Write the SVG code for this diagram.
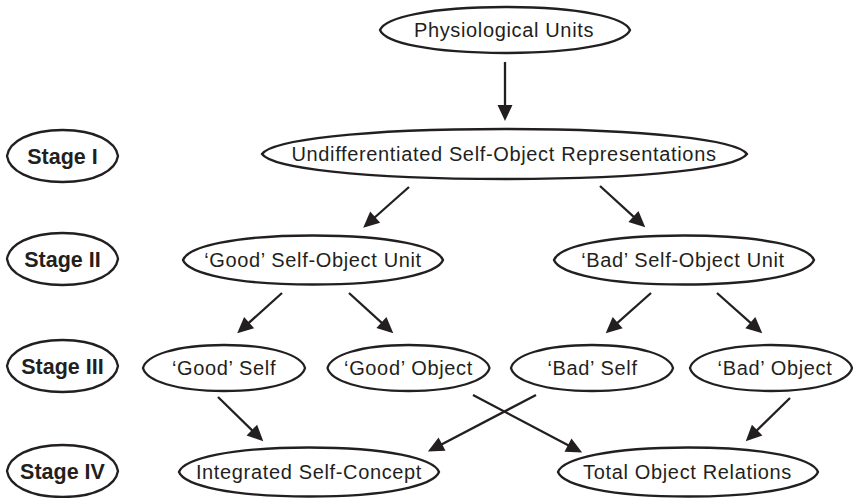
<svg xmlns="http://www.w3.org/2000/svg" xmlns:xlink="http://www.w3.org/1999/xlink" width="853" height="498" viewBox="0 0 853 498">
<style>
  .shape { fill: #ffffff; stroke: #231f20; stroke-width: 2.3; }
  .lbl { font-family: "Liberation Sans", Arial, Helvetica, sans-serif; font-size: 20px; letter-spacing: 0.65px; fill: #231f20; text-anchor: middle; }
  .stg { font-family: "Liberation Sans", Arial, Helvetica, sans-serif; font-size: 21.5px; font-weight: bold; fill: #231f20; text-anchor: middle; }
  .edge { fill: none; stroke: #231f20; stroke-width: 2.3; marker-end: url(#arrow); }
</style>
<defs>
  <marker id="arrow" markerUnits="userSpaceOnUse" markerWidth="17" markerHeight="15" refX="12" refY="7.5" orient="auto" overflow="visible">
    <path d="M0,0 L16,7.5 L0,15 z" fill="#231f20"/>
  </marker>
  <path id="stage" d="M0,0 c2.2,-14.3 22.2,-26 55.5,-26 c33.3,0 53.3,11.7 55.5,26 c-2.2,14.3 -22.2,26 -55.5,26 c-33.3,0 -53.3,-11.7 -55.5,-26 z"/>
  <path id="small" d="M0,0 c3.24,-12.65 32.4,-23 81,-23 c48.6,0 77.76,10.35 81,23 c-3.24,12.65 -32.4,23 -81,23 c-48.6,0 -77.76,-10.35 -81,-23 z"/>
  <path id="wide" d="M0,0 c5.2,-13.475 52,-24.5 130,-24.5 c78,0 124.8,11.025 130,24.5 c-5.2,13.475 -52,24.5 -130,24.5 c-78,0 -124.8,-11.025 -130,-24.5 z"/>
</defs>

<g id="connectors">
  <line class="edge" x1="505" y1="62" x2="505" y2="117"/>
  <line class="edge" x1="409" y1="187" x2="366.2" y2="225.0"/>
  <line class="edge" x1="600" y1="186" x2="642.3" y2="224.6"/>
  <line class="edge" x1="282" y1="293" x2="240.2" y2="330.6"/>
  <line class="edge" x1="349" y1="293" x2="390.3" y2="330.6"/>
  <line class="edge" x1="651" y1="293" x2="608.7" y2="330.7"/>
  <line class="edge" x1="717" y1="293" x2="759.3" y2="330.7"/>
  <line class="edge" x1="218" y1="397" x2="260.4" y2="438.5"/>
  <line class="edge" x1="473" y1="395" x2="578.6" y2="450.7"/>
  <line class="edge" x1="536" y1="395" x2="431.4" y2="449.7"/>
  <line class="edge" x1="790" y1="398" x2="748.6" y2="438.5"/>
</g>

<g id="physiological-units">
  <path class="shape" d="M380,30 c5,-12.65 50,-23 125,-23 c75,0 120,10.35 125,23 c-5,12.65 -50,23 -125,23 c-75,0 -120,-10.35 -125,-23 z"/>
  <text class="lbl" x="504" y="37">Physiological Units</text>
</g>

<g id="undifferentiated">
  <path class="shape" d="M262,154 c9.7,-13.75 97,-25 242.5,-25 c145.5,0 232.8,11.25 242.5,25 c-9.7,13.75 -97,25 -242.5,25 c-145.5,0 -232.8,-11.25 -242.5,-25 z"/>
  <text class="lbl" x="504" y="161">Undifferentiated Self-Object Representations</text>
</g>

<g id="stage-1">
  <use xlink:href="#stage" href="#stage" class="shape" x="7" y="156"/>
  <text class="stg" x="62.5" y="163.7">Stage I</text>
</g>
<g id="stage-2">
  <use xlink:href="#stage" href="#stage" class="shape" x="7" y="259"/>
  <text class="stg" x="62.5" y="266.7">Stage II</text>
</g>
<g id="stage-3">
  <use xlink:href="#stage" href="#stage" class="shape" x="7" y="366"/>
  <text class="stg" x="62.5" y="373.7">Stage III</text>
</g>
<g id="stage-4">
  <use xlink:href="#stage" href="#stage" class="shape" x="7" y="471"/>
  <text class="stg" x="62.5" y="478.7">Stage IV</text>
</g>

<g id="good-self-object-unit">
  <use xlink:href="#wide" href="#wide" class="shape" x="183" y="260"/>
  <text class="lbl" x="313" y="267">‘Good’ Self-Object Unit</text>
</g>
<g id="bad-self-object-unit">
  <use xlink:href="#wide" href="#wide" class="shape" x="554" y="260"/>
  <text class="lbl" x="683" y="267">‘Bad’ Self-Object Unit</text>
</g>

<g id="good-self">
  <use xlink:href="#small" href="#small" class="shape" x="143" y="368"/>
  <text class="lbl" x="224" y="375">‘Good’ Self</text>
</g>
<g id="good-object">
  <use xlink:href="#small" href="#small" class="shape" x="327.5" y="368"/>
  <text class="lbl" x="408.5" y="375">‘Good’ Object</text>
</g>
<g id="bad-self">
  <use xlink:href="#small" href="#small" class="shape" x="511" y="368"/>
  <text class="lbl" x="592.5" y="375">‘Bad’ Self</text>
</g>
<g id="bad-object">
  <use xlink:href="#small" href="#small" class="shape" x="690" y="368"/>
  <text class="lbl" x="775" y="375">‘Bad’ Object</text>
</g>

<g id="integrated-self-concept">
  <use xlink:href="#wide" href="#wide" class="shape" x="179" y="472"/>
  <text class="lbl" x="309" y="479">Integrated Self-Concept</text>
</g>
<g id="total-object-relations">
  <use xlink:href="#wide" href="#wide" class="shape" x="558" y="472"/>
  <text class="lbl" x="687.5" y="479">Total Object Relations</text>
</g>
</svg>
